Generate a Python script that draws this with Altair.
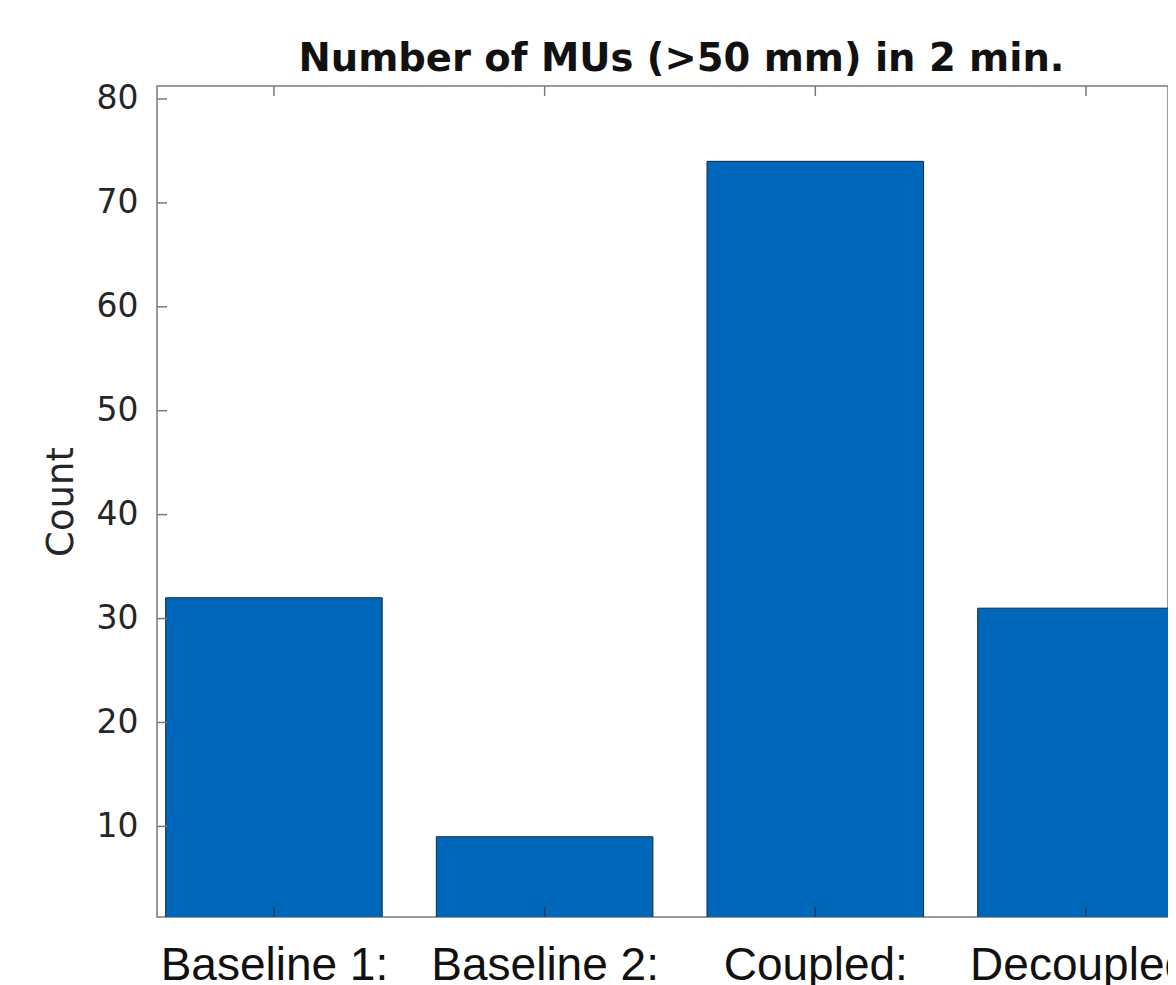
import altair as alt
import pandas as pd

# ---- data ----
CATEGORIES = ["Baseline 1:", "Baseline 2:", "Coupled:", "Decoupled:"]
COUNTS = [32, 9, 74, 31]
Y_TICKS = [10, 20, 30, 40, 50, 60, 70, 80]
X_DOMAIN = [0.568, 4.303]
Y_DOMAIN = [1.28, 81.25]

TITLE = "Number of MUs (>50 mm) in 2 min."
Y_TITLE = "Count"

W, H = 1011, 831
BAR_COLOR = "#0068BA"
AXIS_COLOR = "#7a7a7a"

bars_df = pd.DataFrame({"pos": list(range(1, len(CATEGORIES) + 1)),
                        "label": CATEGORIES, "count": COUNTS})
yt_df = pd.DataFrame({"v": Y_TICKS})
xt_df = pd.DataFrame({"v": list(range(1, len(CATEGORIES) + 1))})
title_df = pd.DataFrame({"t": [TITLE]})

label_arr = "[''," + ",".join("'" + c + "'" for c in CATEGORIES) + "]"

xscale = alt.Scale(domain=X_DOMAIN, nice=False, zero=False)
yscale = alt.Scale(domain=Y_DOMAIN, nice=False, zero=False)

bars = alt.Chart(bars_df).transform_calculate(
    lo="datum.pos - 0.4", hi="datum.pos + 0.4"
).mark_bar(color=BAR_COLOR, stroke="#10283f", strokeWidth=1, clip=True).encode(
    x=alt.X("lo:Q", scale=xscale,
            axis=alt.Axis(values=list(range(1, len(CATEGORIES) + 1)), ticks=False, domain=False,
                          grid=False, labelExpr=label_arr + "[datum.value]",
                          labelFont="Liberation Sans", labelFontSize=46, labelColor="#111111",
                          labelPadding=62, labelBaseline="alphabetic", labelFlush=False,
                          labelOverlap=False, labelLimit=0, title=None)),
    x2="hi:Q",
    y=alt.Y("count:Q", scale=yscale,
            axis=alt.Axis(values=Y_TICKS, ticks=False, domain=False, grid=False,
                          labelFont="DejaVu Sans", labelFontSize=33, labelColor="#262626",
                          labelPadding=19, title=Y_TITLE, titleFont="DejaVu Sans",
                          titleFontSize=37, titleFontWeight="normal", titleColor="#262626",
                          titleAngle=-90, titleAlign="center", titleBaseline="middle",
                          titleX=-96, titleY=H / 2)),
    y2=alt.datum(0),
)

left_ticks = alt.Chart(yt_df).mark_rule(color=AXIS_COLOR, strokeWidth=1.5).encode(
    y=alt.Y("v:Q", scale=yscale), x=alt.value(0), x2=alt.value(10))
top_ticks = alt.Chart(xt_df).mark_rule(color=AXIS_COLOR, strokeWidth=1.5, clip=True).encode(
    x=alt.X("v:Q", scale=xscale), y=alt.value(0), y2=alt.value(10))
bottom_ticks = alt.Chart(xt_df).mark_rule(color="#1d3f66", strokeWidth=1.5, clip=True).encode(
    x=alt.X("v:Q", scale=xscale), y=alt.value(H), y2=alt.value(H - 10))

title_text = alt.Chart(title_df).mark_text(
    font="DejaVu Sans", fontSize=38.5, fontWeight="bold", color="#111111",
    align="center", baseline="alphabetic").encode(
    text="t:N", x=alt.value(524.5), y=alt.value(-15))

chart = alt.layer(bars, left_ticks, top_ticks, bottom_ticks, title_text).properties(
    width=W, height=H,
    autosize=alt.AutoSizeParams(type="none"),
    padding={"left": 149, "top": 78, "right": 0, "bottom": 68},
    background="white",
).configure_view(stroke=AXIS_COLOR, strokeWidth=1.5)

chart.save("out.html", embed_options={"renderer": "svg", "actions": False})
